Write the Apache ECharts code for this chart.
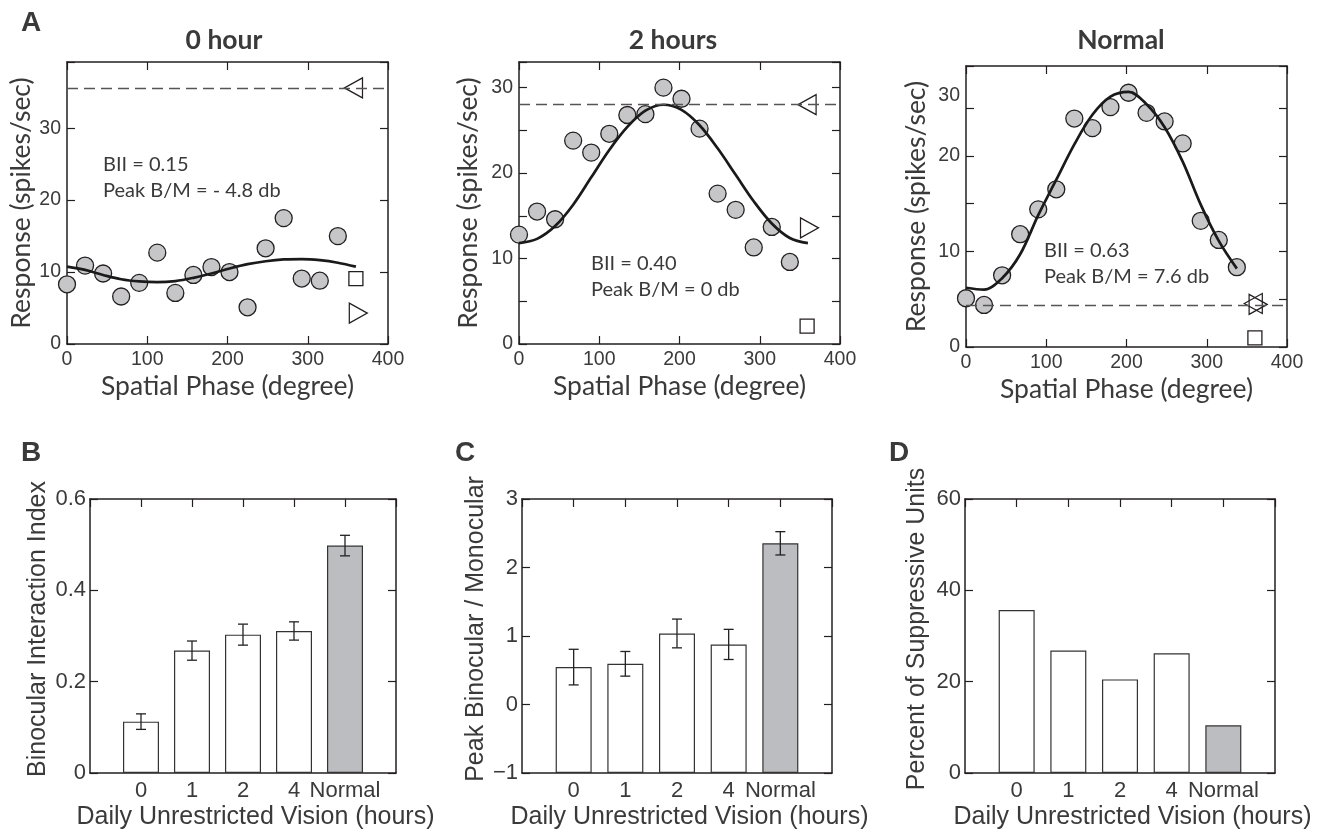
<!DOCTYPE html>
<html>
<head>
<meta charset="utf-8">
<script src="https://cdn.jsdelivr.net/npm/echarts@6/dist/echarts.min.js"></script>
<style>
  html, body { margin: 0; padding: 0; background: #fff; }
  #chart { width: 1319px; height: 832px; }
</style>
</head>
<body>
<div id="chart"></div>
<script>
// ---- Spatial phase tuning (row A) ----
const phases = [0, 22.5, 45, 67.5, 90, 112.5, 135, 157.5, 180, 202.5, 225, 247.5, 270, 292.5, 315, 337.5];
const fitPhases = [0, 22.5, 45, 67.5, 90, 112.5, 135, 157.5, 180, 202.5, 225, 247.5, 270, 292.5, 315, 337.5, 360];

const resp0h = [8.3, 10.9, 9.8, 6.6, 8.5, 12.7, 7.1, 9.6, 10.7, 10.0, 5.1, 13.3, 17.5, 9.1, 8.8, 15.0];
const fit0h = [10.75, 10.3, 9.6, 9.0, 8.7, 8.6, 8.75, 9.2, 9.8, 10.5, 11.1, 11.5, 11.75, 11.8, 11.65, 11.3, 10.75];
const resp2h = [12.8, 15.5, 14.6, 23.8, 22.4, 24.6, 26.8, 26.9, 30.0, 28.7, 25.2, 17.6, 15.7, 11.3, 13.7, 9.6];
const fit2h = [11.8, 12.3, 13.8, 16.3, 19.5, 22.7, 25.4, 27.3, 28.0, 27.4, 25.6, 22.9, 19.8, 16.7, 14.1, 12.4, 11.8];
const respNormal = [5.1, 4.4, 7.5, 11.8, 14.4, 16.5, 23.9, 22.9, 25.1, 26.6, 24.5, 23.6, 21.3, 13.2, 11.2, 8.35];
const fitNormal = [6.2, 6.0, 7.2, 9.7, 13.8, 17.5, 21.2, 24.3, 26.2, 26.7, 25.4, 23.0, 19.4, 14.9, 11.1, 8.2];

// monocular responses: [phase, rate] for left eye, right eye, spontaneous
const leftEye = [[357, 35.6], [359, 28.0], [358, 4.55]];
const rightEye = [[363, 4.3], [362, 13.6], [364, 4.45]];
const spontaneous = [[360, 9.1], [359, 2.1], [360, 0.95]];
const monoMax = [35.6, 28.0, 4.4];

const panelTitles = ['0 hour', '2 hours', 'Normal'];
const indexText = [['BII = 0.15', 'Peak B/M = - 4.8 db'], ['BII = 0.40', 'Peak B/M = 0 db'], ['BII = 0.63', 'Peak B/M = 7.6 db']];
const respMax = [39.2, 33.0, 29.4];
const respInterval = [10, 5, 5];
const respTickLabels = [
  { 0: '0', 10: '10', 20: '20', 30: '30' },
  { 0: '0', 10: '10', 20: '20', 30: '30' },
  { 0: '0', 10: '10', 20: '20', 25: '30' }
];
const phaseTicks = [0, 100, 200, 300, 400];

// ---- Population summaries (rows B-D) ----
const visionHours = ['0', '1', '2', '4', 'Normal'];
const bii = [0.1125, 0.268, 0.303, 0.311, 0.498];
const biiErr = [0.017, 0.021, 0.023, 0.020, 0.0225];
const peakRatio = [0.546, 0.594, 1.037, 0.877, 2.353];
const peakRatioErr = [0.26, 0.18, 0.21, 0.22, 0.17];
const suppressivePct = [35.7, 26.8, 20.5, 26.2, 10.45];

const INK = '#231f20';
const TXT = '#3a3a3a';
const DOT = '#c6c6c8';
const GRAYBAR = '#bcbdc0';
const SANS = '"Liberation Sans", Arial, sans-serif';
const HUMAN = 'Lato, "Open Sans", sans-serif';

const grids = [
  { left: 67, top: 62, width: 321, height: 282 },
  { left: 519, top: 62, width: 321, height: 282 },
  { left: 966, top: 66, width: 321, height: 281 },
  { left: 90, top: 499, width: 306, height: 274 },
  { left: 522, top: 499, width: 310, height: 274 },
  { left: 965, top: 499, width: 310, height: 274 }
];

const xAxes = [], yAxes = [], series = [];
const lineStyle = { color: INK, width: 1.5 };
const tickStyle = { show: true, inside: true, length: 8, lineStyle: { color: INK, width: 1.2 } };

function addAxes(g, xo, yo) {
  // bottom + mirrored top
  xAxes.push(Object.assign({
    type: 'value', gridIndex: g, position: 'bottom',
    axisLine: { show: true, onZero: false, lineStyle }, axisTick: tickStyle,
    splitLine: { show: false }, nameLocation: 'middle'
  }, xo.main));
  xAxes.push({
    type: 'value', gridIndex: g, position: 'top', min: xo.main.min, max: xo.main.max, interval: xo.main.interval,
    axisLine: { show: true, onZero: false, lineStyle }, axisTick: tickStyle,
    axisLabel: { show: false }, splitLine: { show: false }
  });
  yAxes.push(Object.assign({
    type: 'value', gridIndex: g, position: 'left',
    axisLine: { show: true, onZero: false, lineStyle }, axisTick: tickStyle,
    splitLine: { show: false }, nameLocation: 'middle', nameRotate: 90
  }, yo.main));
  yAxes.push({
    type: 'value', gridIndex: g, position: 'right', min: yo.main.min, max: yo.main.max, interval: yo.main.interval,
    axisLine: { show: true, onZero: false, lineStyle }, axisTick: tickStyle,
    axisLabel: { show: false }, splitLine: { show: false }
  });
}

// Row A: binocular phase tuning panels
for (let p = 0; p < 3; p++) {
  const tickMap = respTickLabels[p];
  addAxes(p, {
    main: {
      min: 0, max: 400, interval: 100,
      name: 'Spatial Phase (degree)', nameGap: 29,
      nameTextStyle: { fontFamily: HUMAN, fontSize: 26.5, color: TXT },
      axisLabel: { fontFamily: SANS, fontSize: 19.5, color: TXT, margin: 6,
        formatter: v => phaseTicks.includes(v) ? String(v) : '' }
    }
  }, {
    main: {
      min: 0, max: respMax[p], interval: respInterval[p],
      name: 'Response (spikes/sec)', nameGap: [32, 37, 36][p],
      nameTextStyle: { fontFamily: HUMAN, fontSize: 26.5, color: TXT },
      axisLabel: {
        fontFamily: SANS, fontSize: 19.5, color: TXT, margin: 6,
        formatter: v => (tickMap[v] === undefined ? '' : (v % 10 === 0 ? tickMap[v] : '{up|' + tickMap[v] + '}')),
        rich: { up: { fontFamily: SANS, fontSize: 19.5, color: TXT, padding: [0, 0, 24, 0] } }
      }
    }
  });
  const xi = 2 * p, yi = 2 * p;
  const resp = [resp0h, resp2h, respNormal][p];
  const fit = [fit0h, fit2h, fitNormal][p];
  const fitX = p === 2 ? phases : fitPhases;
  series.push({
    type: 'scatter', xAxisIndex: xi, yAxisIndex: yi, z: 2,
    symbol: 'circle', symbolSize: 17,
    itemStyle: { color: DOT, borderColor: INK, borderWidth: 1.3, opacity: 1 },
    data: phases.map((ph, i) => [ph, resp[i]]),
    markLine: {
      silent: true, symbol: 'none', label: { show: false },
      lineStyle: { color: '#555', width: 1.3, type: [11, 6] },
      data: [{ yAxis: monoMax[p] }]
    }
  });
  series.push({
    type: 'line', xAxisIndex: xi, yAxisIndex: yi, z: 3,
    smooth: 0.35, symbol: 'none',
    lineStyle: { color: '#1a1a1a', width: 2.7 },
    data: fitX.map((ph, i) => [ph, fit[i]])
  });
  const openStyle = { color: 'rgba(0,0,0,0)', borderColor: INK, borderWidth: 1.3, opacity: 1 };
  series.push({
    type: 'scatter', xAxisIndex: xi, yAxisIndex: yi, z: 4,
    symbol: 'path://M0,5 L10,0 L10,10 Z', symbolSize: [18, 20], itemStyle: openStyle,
    data: [leftEye[p]]
  });
  series.push({
    type: 'scatter', xAxisIndex: xi, yAxisIndex: yi, z: 4,
    symbol: 'path://M10,5 L0,0 L0,10 Z', symbolSize: [18, 20], itemStyle: openStyle,
    data: [rightEye[p]]
  });
  series.push({
    type: 'scatter', xAxisIndex: xi, yAxisIndex: yi, z: 4,
    symbol: 'rect', symbolSize: 14, itemStyle: openStyle,
    data: [spontaneous[p]]
  });
}

// Rows B-D: bar summaries across rearing conditions
const barPanels = [
  { vals: bii, err: biiErr, min: 0, max: 0.6, interval: 0.2, name: 'Binocular Interaction Index', gap: 39,
    fmt: v => (Math.abs(v) < 1e-9 ? '0' : v.toFixed(1)) },
  { vals: peakRatio, err: peakRatioErr, min: -1, max: 3, interval: 1, name: 'Peak Binocular / Monocular', gap: 33,
    fmt: v => (v < 0 ? '\u2212' + Math.abs(v) : String(v)) },
  { vals: suppressivePct, err: null, min: 0, max: 60, interval: 20, name: 'Percent of Suppressive Units', gap: 35,
    fmt: v => String(v) }
];

barPanels.forEach((bp, k) => {
  const g = 3 + k;
  addAxes(g, {
    main: {
      min: 0, max: visionHours.length + 1, interval: 1,
      name: 'Daily Unrestricted Vision (hours)', nameGap: 32,
      nameTextStyle: { fontFamily: SANS, fontSize: 25, color: TXT, padding: [0, 0, 0, 25] },
      axisTick: { show: false },
      axisLabel: { fontFamily: SANS, fontSize: 22, color: TXT, margin: 7,
        formatter: v => (v >= 1 && v <= visionHours.length ? visionHours[v - 1] : '') }
    }
  }, {
    main: {
      min: bp.min, max: bp.max, interval: bp.interval, startValue: bp.min,
      name: bp.name, nameGap: bp.gap,
      nameTextStyle: { fontFamily: SANS, fontSize: 25, color: TXT, padding: [0, 0, 0, 14] },
      axisLabel: { fontFamily: SANS, fontSize: 22, color: TXT, margin: 4, formatter: bp.fmt }
    }
  });
  const xi = 2 * g, yi = 2 * g;
  series.push({
    type: 'bar', xAxisIndex: xi, yAxisIndex: yi, barWidth: 36, z: 2,
    itemStyle: { borderColor: '#333', borderWidth: 1.2 },
    data: bp.vals.map((v, i) => ({
      value: [i + 1, v],
      itemStyle: { color: i === bp.vals.length - 1 ? GRAYBAR : '#fff' }
    }))
  });
  if (bp.err) {
    series.push({
      type: 'custom', xAxisIndex: xi, yAxisIndex: yi, z: 5,
      encode: { x: 0, y: [1, 2] },
      data: bp.vals.map((v, i) => [i + 1, v - bp.err[i], v + bp.err[i]]),
      renderItem: (params, api) => {
        const lo = api.coord([api.value(0), api.value(1)]);
        const hi = api.coord([api.value(0), api.value(2)]);
        const cw = 5;
        const st = { stroke: '#222', lineWidth: 1.3 };
        return {
          type: 'group', children: [
            { type: 'line', shape: { x1: lo[0], y1: lo[1], x2: hi[0], y2: hi[1] }, style: st },
            { type: 'line', shape: { x1: lo[0] - cw, y1: lo[1], x2: lo[0] + cw, y2: lo[1] }, style: st },
            { type: 'line', shape: { x1: hi[0] - cw, y1: hi[1], x2: hi[0] + cw, y2: hi[1] }, style: st }
          ]
        };
      }
    });
  }
});

// Panel letters, column titles and index annotations
const graphics = [];
function txt(x, y, text, font, align) {
  graphics.push({
    type: 'text', x, y, silent: true,
    style: { text, font, fill: TXT, align: align || 'left', verticalAlign: 'middle',
      textAlign: align || 'left', textVerticalAlign: 'middle' }
  });
}
const letterFont = 'bold 28px "Liberation Sans", Arial, sans-serif';
txt(21, 23, 'A', letterFont);
txt(21, 453, 'B', letterFont);
txt(455, 453, 'C', letterFont);
txt(889, 453, 'D', letterFont);
const titleX = [224, 673, 1121];
panelTitles.forEach((t, i) => txt(titleX[i], 40, t, 'bold 26.5px Lato, "Open Sans", sans-serif', 'center'));
const annX = [103, 591, 1044];
const annY = [165, 264, 251];
indexText.forEach((lines, i) => {
  txt(annX[i], annY[i], lines[0], '20px Lato, "Open Sans", sans-serif');
  txt(annX[i], annY[i] + 26, lines[1], '20px Lato, "Open Sans", sans-serif');
});

const chart = echarts.init(document.getElementById('chart'), null, { renderer: 'canvas' });
chart.setOption({
  backgroundColor: '#fff',
  animation: false,
  grid: grids,
  xAxis: xAxes,
  yAxis: yAxes,
  series,
  graphic: graphics
});
</script>
</body>
</html>
